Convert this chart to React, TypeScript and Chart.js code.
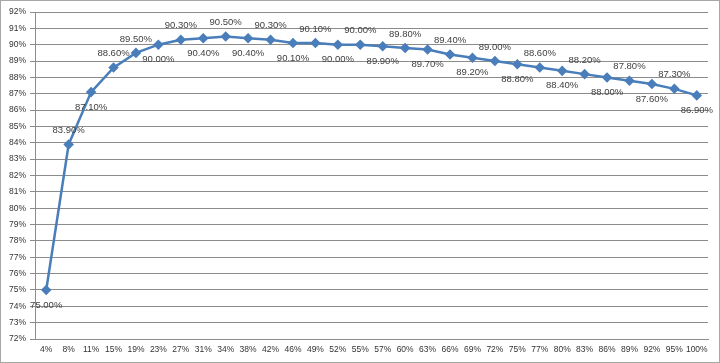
import React, { useEffect, useRef } from "react";
import { Chart, registerables } from "chart.js";

Chart.register(...registerables);

const categories = ["4%", "8%", "11%", "15%", "19%", "23%", "27%", "31%", "34%", "38%", "42%", "46%", "49%", "52%", "55%", "57%", "60%", "63%", "66%", "69%", "72%", "75%", "77%", "80%", "83%", "86%", "89%", "92%", "95%", "100%"];
const efficiency = [75.0, 83.9, 87.1, 88.6, 89.5, 90.0, 90.3, 90.4, 90.5, 90.4, 90.3, 90.1, 90.1, 90.0, 90.0, 89.9, 89.8, 89.7, 89.4, 89.2, 89.0, 88.8, 88.6, 88.4, 88.2, 88.0, 87.8, 87.6, 87.3, 86.9];
const labelSide = ["below", "above", "below", "above", "above", "below", "above", "below", "above", "below", "above", "below", "above", "below", "above", "below", "above", "below", "above", "below", "above", "below", "above", "below", "above", "below", "above", "below", "above", "below"];
const yMin = 72;
const yMax = 92;

const dataLabelPlugin = {
  id: "dataLabels",
  afterDatasetsDraw(chart: any) {
    const ctx = chart.ctx;
    const meta = chart.getDatasetMeta(0);
    ctx.save();
    ctx.font = "9.5px 'Liberation Sans', Arial, sans-serif";
    ctx.fillStyle = "#404040";
    ctx.textAlign = "center";
    ctx.textBaseline = "middle";
    meta.data.forEach((pt: any, i: number) => {
      const v = efficiency[i];
      const off = labelSide[i] === "above" ? -14 : 15;
      ctx.fillText(v.toFixed(2) + "%", pt.x, pt.y + off);
    });
    ctx.restore();
  },
};

export default function App() {
  const ref = useRef<HTMLCanvasElement | null>(null);
  useEffect(() => {
    if (!ref.current) return;
    const chart = new Chart(ref.current, {
      type: "line",
      data: {
        labels: categories,
        datasets: [
          {
            data: efficiency,
            borderColor: "#4a7ebb",
            backgroundColor: "#4a7ebb",
            borderWidth: 2.5,
            pointStyle: "rectRot",
            pointRadius: 3.5,
            pointBackgroundColor: "#4a7ebb",
            pointBorderColor: "#4a7ebb",
            tension: 0,
          },
        ],
      },
      options: {
        responsive: false,
        animation: false,
        layout: { padding: { left: 0, right: 11, top: 11, bottom: 0 } },
        plugins: { legend: { display: false }, tooltip: { enabled: false } },
        scales: {
          x: {
            offset: true,
            afterFit(scale: any) {
              scale.height = 23;
            },
            grid: { display: true, drawOnChartArea: false, drawTicks: false, offset: true },
            border: { display: true, color: "#8c8c8c", width: 1 },
            ticks: {
              color: "#333333",
              font: { family: "'Liberation Sans', Arial, sans-serif", size: 8.5 },
              padding: 6,
              maxRotation: 0,
              autoSkip: false,
            },
          },
          y: {
            min: yMin,
            max: yMax,
            afterFit(scale: any) {
              scale.width = 34;
            },
            grid: { color: "#8c8c8c", lineWidth: 1, tickLength: 5, drawTicks: true },
            border: { display: true, color: "#8c8c8c", width: 1 },
            ticks: {
              stepSize: 1,
              color: "#333333",
              font: { family: "'Liberation Sans', Arial, sans-serif", size: 8.5 },
              padding: 4,
              callback: (v: any) => v + "%",
            },
          },
        },
      },
      plugins: [dataLabelPlugin],
    });
    return () => chart.destroy();
  }, []);
  return (
    <div
      style={{
        position: "fixed",
        left: 0,
        top: 0,
        width: 720,
        height: 363,
        background: "#fff",
        border: "1px solid #a6a6a6",
        boxSizing: "border-box",
      }}
    >
      <canvas ref={ref} width={718} height={361} style={{ display: "block" }} />
    </div>
  );
}
